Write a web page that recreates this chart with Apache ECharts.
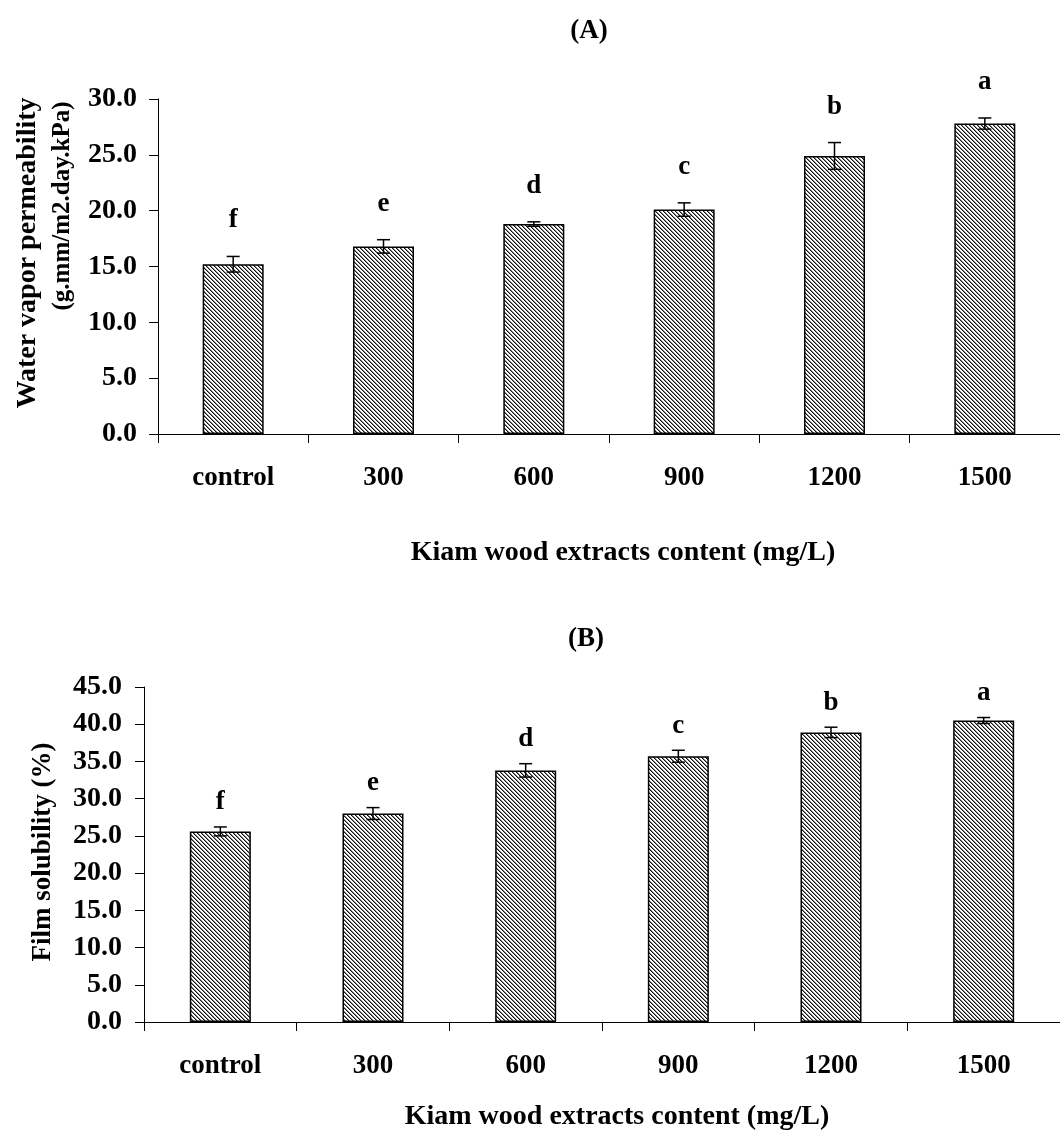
<!DOCTYPE html>
<html><head><meta charset="utf-8">
<script src="https://cdn.jsdelivr.net/npm/echarts@6/dist/echarts.min.js"></script>
<style>html,body{margin:0;padding:0;background:#fff}#c{width:1060px;height:1131px}</style>
</head><body><div id="c"></div>
<script>
const categories = ['control', '300', '600', '900', '1200', '1500'];
const wvpValues = [15.2, 16.8, 18.8, 20.1, 24.9, 27.8];
const wvpErrors = [0.7, 0.6, 0.2, 0.6, 1.2, 0.5];
const wvpLetters = ['f', 'e', 'd', 'c', 'b', 'a'];
const solValues = [25.6, 28.0, 33.8, 35.7, 38.9, 40.5];
const solErrors = [0.6, 0.8, 0.9, 0.8, 0.7, 0.4];
const solLetters = ['f', 'e', 'd', 'c', 'b', 'a'];
const titleA = '(A)';
const titleB = '(B)';
const xName = 'Kiam wood extracts content (mg/L)';
const yNameA1 = 'Water vapor permeability';
const yNameA2 = '(g.mm/m2.day.kPa)';
const yNameB = 'Film solubility (%)';

const FONT = '"Liberation Serif", "Times New Roman", serif';
const FS = 27;

function hatch() {
  const p = 4;
  const c = document.createElement('canvas');
  c.width = p; c.height = p;
  const ctx = c.getContext('2d');
  ctx.fillStyle = '#fff'; ctx.fillRect(0, 0, p, p);
  for (let y = 0; y < p; y++) for (let x = 0; x < p; x++) {
    const d = ((x - y) % p + p) % p;
    if (d === 0) { ctx.fillStyle = '#111'; ctx.fillRect(x, y, 1, 1); }
    else if (d === 1) { ctx.fillStyle = '#8a8a8a'; ctx.fillRect(x, y, 1, 1); }
  }
  return c;
}
const pattern = { image: hatch(), repeat: 'repeat' };

function errSeries(idx, vals, errs, letters, off) {
  return {
    type: 'custom', xAxisIndex: idx, yAxisIndex: idx, z: 10,
    data: vals.map((v, i) => [i, v - errs[i], v + errs[i]]),
    renderItem(params, api) {
      const x = api.value(0);
      const lo = api.coord([x, api.value(1)]);
      const hi = api.coord([x, api.value(2)]);
      const hw = 6.5;
      const st = { stroke: '#000', lineWidth: 1.5 };
      return {
        type: 'group', children: [
          { type: 'line', shape: { x1: hi[0], y1: hi[1], x2: lo[0], y2: lo[1] }, style: st },
          { type: 'line', shape: { x1: hi[0] - hw, y1: hi[1], x2: hi[0] + hw, y2: hi[1] }, style: st },
          { type: 'line', shape: { x1: lo[0] - hw, y1: lo[1], x2: lo[0] + hw, y2: lo[1] }, style: st },
          { type: 'text', x: hi[0], y: hi[1] - off,
            style: { text: letters[params.dataIndex], fontSize: FS, fontWeight: 'bold', fontFamily: FONT,
                     align: 'center', verticalAlign: 'middle', fill: '#000' } }
        ]
      };
    }
  };
}

function xAxis(idx) {
  return {
    type: 'category', gridIndex: idx, data: categories, boundaryGap: true,
    axisLine: { lineStyle: { color: '#000', width: 1 } },
    axisTick: { show: true, length: 9, alignWithLabel: false, lineStyle: { color: '#000' } },
    axisLabel: { color: '#000', fontSize: FS, fontWeight: 'bold', fontFamily: FONT, margin: 31, lineHeight: 27 },
    splitLine: { show: false }
  };
}
function yAxis(idx, max, margin) {
  return {
    type: 'value', gridIndex: idx, min: 0, max: max, interval: 5,
    axisLine: { show: true, lineStyle: { color: '#000', width: 1 } },
    axisTick: { show: true, length: 9, lineStyle: { color: '#000' } },
    axisLabel: { color: '#000', fontSize: 28, fontWeight: 'bold', fontFamily: FONT, margin: margin,
                 formatter: v => v.toFixed(1) },
    splitLine: { show: false }
  };
}
function txt(text, x, y, rot, size) {
  return { type: 'text', x: x, y: y, rotation: rot || 0,
    style: { text: text, fontSize: size || FS, fontWeight: 'bold', fontFamily: FONT, fill: '#000',
             align: 'center', verticalAlign: 'middle' } };
}

const chart = echarts.init(document.getElementById('c'), null, { renderer: 'canvas' });
chart.setOption({
  animation: false,
  backgroundColor: '#fff',
  grid: [
    { left: 158, top: 99, width: 908, height: 335 },
    { left: 144, top: 687, width: 926, height: 335 }
  ],
  xAxis: [xAxis(0), xAxis(1)],
  yAxis: [yAxis(0, 30, 21), yAxis(1, 45, 22)],
  graphic: [
    txt(titleA, 589, 31, 0, 27),
    txt(titleB, 586, 639, 0, 27),
    txt(xName, 623, 553, 0, 28),
    txt(xName, 617, 1117, 0, 28),
    txt(yNameA1, 28, 253, Math.PI / 2, 28),
    txt(yNameA2, 63, 206, Math.PI / 2, 25),
    txt(yNameB, 43, 852, Math.PI / 2, 27)
  ],
  series: [
    { type: 'bar', xAxisIndex: 0, yAxisIndex: 0, data: wvpValues, barWidth: 61,
      itemStyle: { color: pattern, borderColor: '#000', borderWidth: 1.5 } },
    { type: 'bar', xAxisIndex: 1, yAxisIndex: 1, data: solValues, barWidth: 61,
      itemStyle: { color: pattern, borderColor: '#000', borderWidth: 1.5 } },
    errSeries(0, wvpValues, wvpErrors, wvpLetters, 36),
    errSeries(1, solValues, solErrors, solLetters, 24.5)
  ]
});
</script></body></html>
